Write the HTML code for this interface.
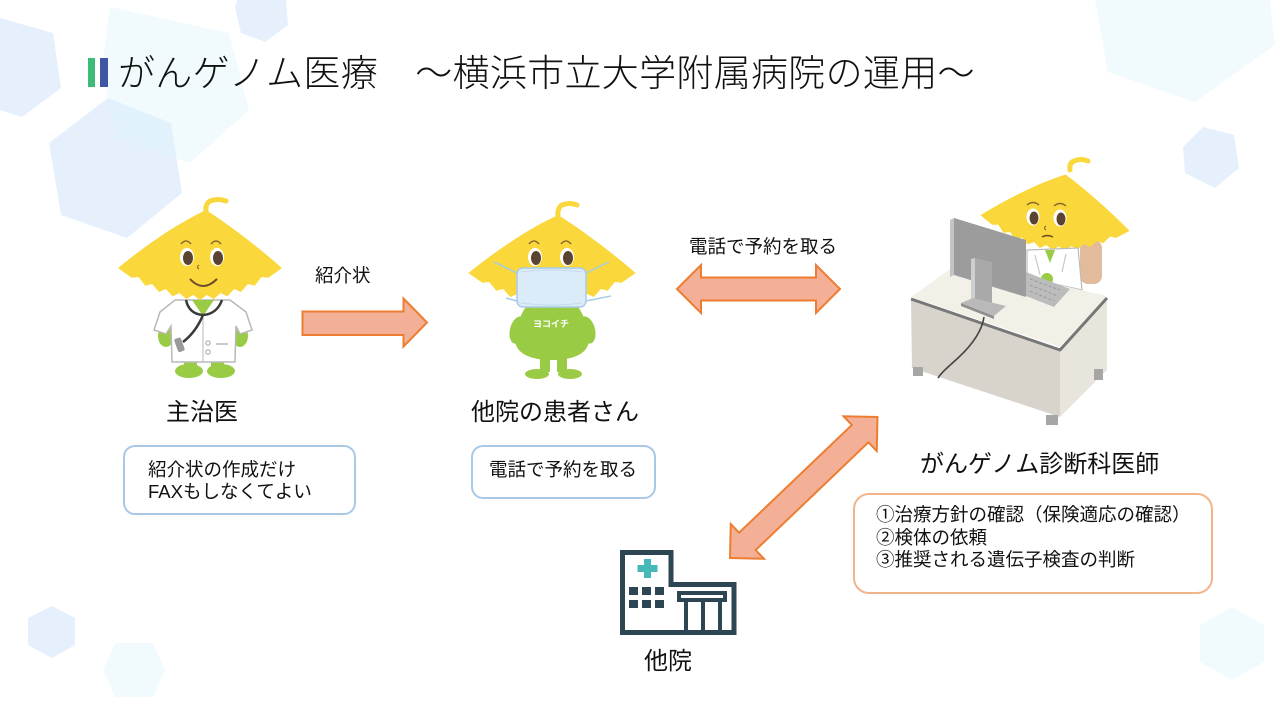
<!DOCTYPE html>
<html><head><meta charset="utf-8">
<style>
html,body{margin:0;padding:0;background:#fff;}
#c{position:relative;width:1280px;height:720px;overflow:hidden;background:#fff;font-family:"Liberation Sans","Noto Sans CJK JP",sans-serif;color:#111;}
svg{position:absolute;left:0;top:0;}
.t{position:absolute;white-space:nowrap;line-height:1;}
.box{position:absolute;box-sizing:border-box;background:#fff;}
</style></head><body><div id="c">
<svg width="1280" height="720" viewBox="0 0 1280 720">
<defs>
<path id="leaf" d="M-82,0 C-55,-22 -24,-44 6,-58 C28,-44 57,-22 82,0 L75,5 L68.3,9.8 L61.5,9 L54.7,17.8 L47.9,16 L41,24 L34.2,21 L27.3,28.4 L20.5,25 L13.7,31.1 L6.9,27 L0,32 L-6.9,27 L-13.7,31.1 L-20.5,25 L-27.3,28.4 L-34.2,21 L-41,24 L-47.9,16 L-54.7,17.8 L-61.5,9 L-68.3,9.8 L-75,5 Z"/>
</defs>
<!-- background hexagons -->
<g fill="#cfe3f9" fill-opacity="0.55">
<polygon points="0,18 53,33 61,88 22,117 0,110"/>
<polygon points="237,0 286,0 288,25 265,42 241,33 235,7"/>
<polygon points="49,143 108,98 171,123 182,193 127,238 61,215"/>
<polygon points="1183,147 1203,127 1234,135 1239,168 1215,188 1185,173"/>
<polygon points="52,606 75,618 75,645 52,658 28,645 28,618"/>
</g>
<g fill="#dcf5fc" fill-opacity="0.4">
<polygon points="110,7 229,33 249,110 190,163 116,137 102,67"/>
<polygon points="1095,0 1270,0 1275,45 1195,102 1108,72"/>
<polygon points="115,643 153,643 165,670 153,697 115,697 103,670"/>
<polygon points="1232,607 1264,625 1264,662 1232,680 1200,662 1200,625"/>
</g>
<!-- title bars -->
<rect x="88" y="58" width="7" height="29" fill="#3dbb78"/>
<rect x="100" y="58" width="8" height="29" fill="#3f56a5"/>

<!-- arrows -->
<g fill="#f4b096" stroke="#ed7d31" stroke-width="2" stroke-linejoin="miter">
<polygon points="302.5,311.5 403.5,311.5 403.5,298.5 427,322.5 403.5,346.5 403.5,335 302.5,335"/>
<polygon points="677,289 701,265 701,277.5 816,277.5 816,265 840,289 816,313 816,300.5 701,300.5 701,313"/>
<g transform="translate(803.75,487.5) rotate(-43.7)">
<polygon points="-102,0 -78,-24 -78,-12 78,-12 78,-24 102,0 78,24 78,12 -78,12 -78,24"/>
</g>
</g>

<!-- Character 1: doctor -->
<g>
<ellipse cx="166" cy="336" rx="8" ry="11" fill="#9acb45"/>
<ellipse cx="240" cy="336" rx="8" ry="11" fill="#9acb45"/>
<rect x="184" y="352" width="13" height="18" fill="#9acb45"/>
<rect x="211" y="352" width="13" height="18" fill="#9acb45"/>
<ellipse cx="189" cy="371" rx="14" ry="7" fill="#9acb45"/>
<ellipse cx="221" cy="371" rx="14" ry="7" fill="#9acb45"/>
<polygon points="175,300 230,300 246,312 252,330 240,334 236,326 235,362 172,362 171,326 166,334 154,330 160,312" fill="#fff" stroke="#b9b9b9" stroke-width="1.5"/>
<polygon points="192,300 214,300 203,316" fill="#9acb45"/>
<line x1="203" y1="316" x2="203" y2="362" stroke="#c4c4c4" stroke-width="1.2"/>
<circle cx="208" cy="343" r="2.2" fill="none" stroke="#b0b0b0" stroke-width="1.2"/>
<circle cx="208" cy="352" r="2.2" fill="none" stroke="#b0b0b0" stroke-width="1.2"/>
<line x1="216" y1="344" x2="228" y2="344" stroke="#b9b9b9" stroke-width="1.5"/>
<path d="M186,300 Q189,314 203,315 Q217,314 222,300" fill="none" stroke="#3a3a3a" stroke-width="2.5"/>
<path d="M203,315 Q196,332 183,342" fill="none" stroke="#3a3a3a" stroke-width="2.5"/>
<rect x="176" y="338" width="7" height="14" rx="2" fill="#9a9a9a" transform="rotate(-20 179 345)"/>
<use href="#leaf" transform="translate(200,268)" fill="#fad83c"/>
<path d="M206,212 Q205,204 210,201 Q218,198 226,201" fill="none" stroke="#fad83c" stroke-width="5" stroke-linecap="round"/>
<ellipse cx="187" cy="257" rx="7" ry="9" fill="#fff"/>
<ellipse cx="188" cy="258" rx="5" ry="7" fill="#5b4331"/>
<ellipse cx="217" cy="257" rx="7" ry="9" fill="#fff"/>
<ellipse cx="218" cy="258" rx="5" ry="7" fill="#5b4331"/>
<path d="M181,244 Q186,238 191,244 M211,244 Q216,238 221,244" fill="none" stroke="#8a6a2a" stroke-width="1.5"/>
<path d="M199,265 q-3,2 0,4" fill="none" stroke="#8a6a2a" stroke-width="1.2"/>
<path d="M190,279 Q203,293 217,279" fill="none" stroke="#6b4a2a" stroke-width="2"/>
</g>

<!-- Character 2: patient -->
<g>
<ellipse cx="518" cy="330" rx="8" ry="14" fill="#9acb45" transform="rotate(15 518 330)"/>
<ellipse cx="587" cy="330" rx="8" ry="14" fill="#9acb45" transform="rotate(-15 587 330)"/>
<path d="M530,300 C522,312 512,330 516,345 C520,356 535,360 552,360 C569,360 584,356 588,345 C592,330 582,312 574,300 Z" fill="#9acb45"/>
<rect x="540" y="352" width="10" height="20" fill="#9acb45"/>
<rect x="557" y="352" width="10" height="20" fill="#9acb45"/>
<ellipse cx="537" cy="374" rx="12" ry="5" fill="#9acb45"/>
<ellipse cx="570" cy="374" rx="12" ry="5" fill="#9acb45"/>
<text x="551" y="327" font-size="9" font-weight="bold" fill="#fff" text-anchor="middle" font-family="Noto Sans CJK JP, sans-serif">ヨコイチ</text>
<use href="#leaf" transform="translate(552,273) scale(1.02,1)" fill="#fad83c"/>
<path d="M558,217 Q557,208 562,205 Q570,202 577,205" fill="none" stroke="#fad83c" stroke-width="5" stroke-linecap="round"/>
<ellipse cx="535" cy="257" rx="7" ry="9" fill="#fff"/>
<ellipse cx="536" cy="258" rx="5" ry="7" fill="#5b4331"/>
<ellipse cx="567" cy="257" rx="7" ry="9" fill="#fff"/>
<ellipse cx="568" cy="258" rx="5" ry="7" fill="#5b4331"/>
<path d="M529,244 Q534,238 539,244 M561,244 Q566,238 571,244" fill="none" stroke="#8a6a2a" stroke-width="1.5"/>
<path d="M517,273 L494,262 M586,273 L609,262 M517,301 L506,298 M586,301 L611,296" stroke="#a7cbe8" stroke-width="1.5" fill="none"/>
<rect x="517" y="268" width="69" height="39" rx="6" fill="#dcebf8" stroke="#a7cbe8" stroke-width="1.5"/>
<path d="M521,272 Q551,268 582,272 M521,303 Q551,307 582,303" fill="none" stroke="#c2dbef" stroke-width="1"/>
</g>

<!-- Character 3 with desk -->
<g>
<rect x="1080" y="240" width="22" height="44" rx="8" fill="#e2bb9c"/>
<use href="#leaf" transform="translate(1055,223) rotate(6) scale(0.915,0.85)" fill="#fad83c"/>
<path d="M1070,170 Q1069,163 1074,161 Q1081,158 1088,161" fill="none" stroke="#fad83c" stroke-width="5" stroke-linecap="round"/>
<polygon points="1027,250 1078,248 1082,290 1027,278" fill="#fff" stroke="#bbb" stroke-width="1.2"/>
<polygon points="1045,250 1055,250 1050,263" fill="#9acb45"/>
<path d="M1035,255 L1040,275 M1066,254 L1062,272" stroke="#c8c8c8" stroke-width="1.2" fill="none"/>
<ellipse cx="1033" cy="217" rx="6.5" ry="8.5" fill="#fff"/>
<ellipse cx="1034" cy="218" rx="4.5" ry="6.5" fill="#5b4331"/>
<ellipse cx="1060" cy="218" rx="6.5" ry="8.5" fill="#fff"/>
<ellipse cx="1061" cy="219" rx="4.5" ry="6.5" fill="#5b4331"/>
<path d="M1027,205 Q1033,200 1039,205 M1054,206 Q1060,201 1066,206" fill="none" stroke="#8a6a2a" stroke-width="1.5"/>
<path d="M1046,226 q-3,2 0,4" fill="none" stroke="#8a6a2a" stroke-width="1.2"/>
<path d="M1042,237 Q1047,234 1053,237" fill="none" stroke="#6b4a2a" stroke-width="1.5"/>
<!-- desk -->
<polygon points="911,299 1060,349 1060,417 912,368" fill="#d8d4cb"/>
<polygon points="1060,349 1107,298 1107,370 1060,417" fill="#e8e5dc"/>
<polygon points="911,297 960,262 1107,296 1060,347" fill="#f3f0e8"/>
<polyline points="911,299 1060,350 1107,298" fill="none" stroke="#777" stroke-width="3" stroke-linejoin="round"/>
<rect x="913" y="367" width="10" height="9" fill="#a6a6a6"/>
<rect x="1046" y="415" width="12" height="10" fill="#a6a6a6"/>
<rect x="1094" y="369" width="9" height="11" fill="#a6a6a6"/>
<circle cx="1047" cy="279" r="6" fill="#9acb45"/>
<!-- keyboard -->
<polygon points="1026,272 1070,289 1054,307 1026,296" fill="#bcbcbc"/>
<path d="M1030,279 L1060,290 M1030,285 L1058,296 M1030,291 L1054,301" stroke="#999" stroke-width="1" stroke-dasharray="3,2"/>
<!-- monitor -->
<polygon points="950,220 954,218 954,275 950,277" fill="#c4c4c4"/>
<polygon points="954,218 1026,240 1026,297 954,275" fill="#9c9c9c"/>
<polygon points="971,259 975,258 975,302 971,301" fill="#cfcfcf"/>
<polygon points="975,258 992,262 992,306 975,302" fill="#a9a9a9"/>
<polygon points="961,306 994,319 994,316 961,303" fill="#8e8e8e"/>
<polygon points="961,303 973,298 1006,306 994,316" fill="#b9b9b9"/>
<path d="M984,317 C982,331 972,345 958,358 C948,367 942,372 938,378" fill="none" stroke="#444" stroke-width="1.6"/>
</g>

<!-- hospital icon -->
<g>
<path d="M622.5,552.5 H671 V584.5 H734 V632.5 H622.5 Z" fill="#fff" stroke="#2e4654" stroke-width="5"/>
<rect x="644" y="559" width="7" height="19" fill="#47b8b8"/>
<rect x="637.5" y="565" width="20" height="7" fill="#47b8b8"/>
<g fill="#2e4654">
<rect x="629" y="587" width="9" height="8"/><rect x="642" y="587" width="9" height="8"/><rect x="655" y="587" width="9" height="8"/>
<rect x="629" y="600" width="9" height="8"/><rect x="642" y="600" width="9" height="8"/><rect x="655" y="600" width="9" height="8"/>
</g>
<rect x="679" y="593" width="46" height="7" fill="none" stroke="#2e4654" stroke-width="4"/>
<path d="M686,600 V632 M703,600 V632 M720,600 V632" stroke="#2e4654" stroke-width="4"/>
</g>
</svg>

<div class="t" style="left:118px;top:54.5px;font-size:37px;letter-spacing:0.3px;color:#111;font-weight:300;">がんゲノム医療　～横浜市立大学附属病院の運用～</div>

<div class="t" style="left:315px;top:267px;font-size:18.5px;">紹介状</div>
<div class="t" style="left:689px;top:238px;font-size:18.5px;">電話で予約を取る</div>

<div class="t" style="left:166px;top:401px;font-size:24px;">主治医</div>
<div class="t" style="left:471px;top:401px;font-size:24px;">他院の患者さん</div>
<div class="t" style="left:920px;top:453px;font-size:24px;">がんゲノム診断科医師</div>
<div class="t" style="left:644px;top:650px;font-size:24px;">他院</div>

<div class="box" style="left:123px;top:445px;width:233px;height:70px;border:2px solid #a9c8e8;border-radius:12px;"></div>
<div class="t" style="left:148px;top:461px;font-size:18.5px;">紹介状の作成だけ</div>
<div class="t" style="left:148px;top:483px;font-size:18.5px;">FAXもしなくてよい</div>

<div class="box" style="left:471px;top:445px;width:185px;height:54px;border:2px solid #a9c8e8;border-radius:12px;"></div>
<div class="t" style="left:489px;top:461px;font-size:18.5px;">電話で予約を取る</div>

<div class="box" style="left:853px;top:493px;width:360px;height:101px;border:2px solid #f2b48a;border-radius:16px;"></div>
<div class="t" style="left:876px;top:506px;font-size:18.5px;">①治療方針の確認（保険適応の確認）</div>
<div class="t" style="left:876px;top:528.5px;font-size:18.5px;">②検体の依頼</div>
<div class="t" style="left:876px;top:551px;font-size:18.5px;">③推奨される遺伝子検査の判断</div>
</div></body></html>
